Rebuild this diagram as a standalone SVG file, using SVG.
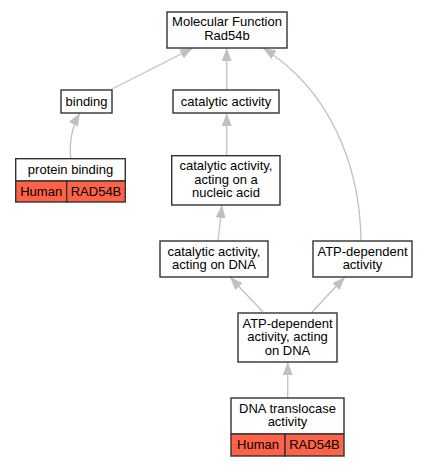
<svg xmlns="http://www.w3.org/2000/svg" width="428" height="467" viewBox="0 0 428 467">
<style>
.box{fill:#fff;stroke:#333;stroke-width:1.4}
.red{fill:#ff6347;stroke:#333;stroke-width:1.4}
text{font-family:"Liberation Sans",Arial,sans-serif;font-size:13px;fill:#000;text-anchor:middle}
.edge{fill:none;stroke:#c0c0c0;stroke-width:1.3}
</style>
<defs>
<marker id="arr" viewBox="0 0 13 10" refX="13" refY="5" markerWidth="13" markerHeight="10" markerUnits="userSpaceOnUse" orient="auto">
<path d="M0,0 L13,5 L0,10 z" fill="#c0c0c0"/>
</marker>
</defs>
<rect width="428" height="467" fill="#fff"/>
<g id="edges">
<path class="edge" marker-end="url(#arr)" d="M110,90 L193,48"/>
<path class="edge" marker-end="url(#arr)" d="M226.7,90 L226.7,48"/>
<path class="edge" marker-end="url(#arr)" d="M70.7,158 C69,140 73,125 80,113"/>
<path class="edge" marker-end="url(#arr)" d="M361,241 C360,165 330,90 263,48"/>
<path class="edge" marker-end="url(#arr)" d="M226.7,155.7 L226.7,113"/>
<path class="edge" marker-end="url(#arr)" d="M218,241 L222,205"/>
<path class="edge" marker-end="url(#arr)" d="M263,312 L230,277"/>
<path class="edge" marker-end="url(#arr)" d="M312,312 L345,277"/>
<path class="edge" marker-end="url(#arr)" d="M287.7,398 L287.7,362"/>
</g>
<g id="mf">
<rect class="box" x="167" y="12" width="120" height="36"/>
<text x="227" y="26">Molecular Function</text>
<text x="227" y="40">Rad54b</text>
</g>
<g id="binding">
<rect class="box" x="61" y="90" width="51" height="23"/>
<text x="86.5" y="105.5">binding</text>
</g>
<g id="catalytic">
<rect class="box" x="173" y="90" width="106" height="23"/>
<text x="226" y="105.5">catalytic activity</text>
</g>
<g id="protein-binding">
<rect class="box" x="15.7" y="158.7" width="109.6" height="22.3"/>
<text x="70.5" y="174">protein binding</text>
<rect class="red" x="15.7" y="181" width="51" height="21"/>
<rect class="red" x="66.7" y="181" width="58.6" height="21"/>
<text x="41.2" y="196">Human</text>
<text x="96" y="196">RAD54B</text>
</g>
<g id="nucleic">
<rect class="box" x="171.7" y="155.7" width="108.3" height="49.3"/>
<text x="226" y="170">catalytic activity,</text>
<text x="226" y="183.5">acting on a</text>
<text x="226" y="197">nucleic acid</text>
</g>
<g id="dna">
<rect class="box" x="160" y="241" width="108" height="36"/>
<text x="214" y="255.5">catalytic activity,</text>
<text x="214" y="269">acting on DNA</text>
</g>
<g id="atp">
<rect class="box" x="313" y="241" width="99" height="36"/>
<text x="362.5" y="255.5">ATP-dependent</text>
<text x="362.5" y="269">activity</text>
</g>
<g id="atp-dna">
<rect class="box" x="238" y="313" width="99" height="49"/>
<text x="287.5" y="327.5">ATP-dependent</text>
<text x="287.5" y="341">activity, acting</text>
<text x="287.5" y="354.5">on DNA</text>
</g>
<g id="translocase">
<rect class="box" x="231" y="398" width="113" height="36"/>
<text x="287.5" y="412.5">DNA translocase</text>
<text x="287.5" y="426">activity</text>
<rect class="red" x="231" y="434" width="54" height="22"/>
<rect class="red" x="285" y="434" width="59" height="22"/>
<text x="258" y="449">Human</text>
<text x="314.5" y="449">RAD54B</text>
</g>
</svg>
